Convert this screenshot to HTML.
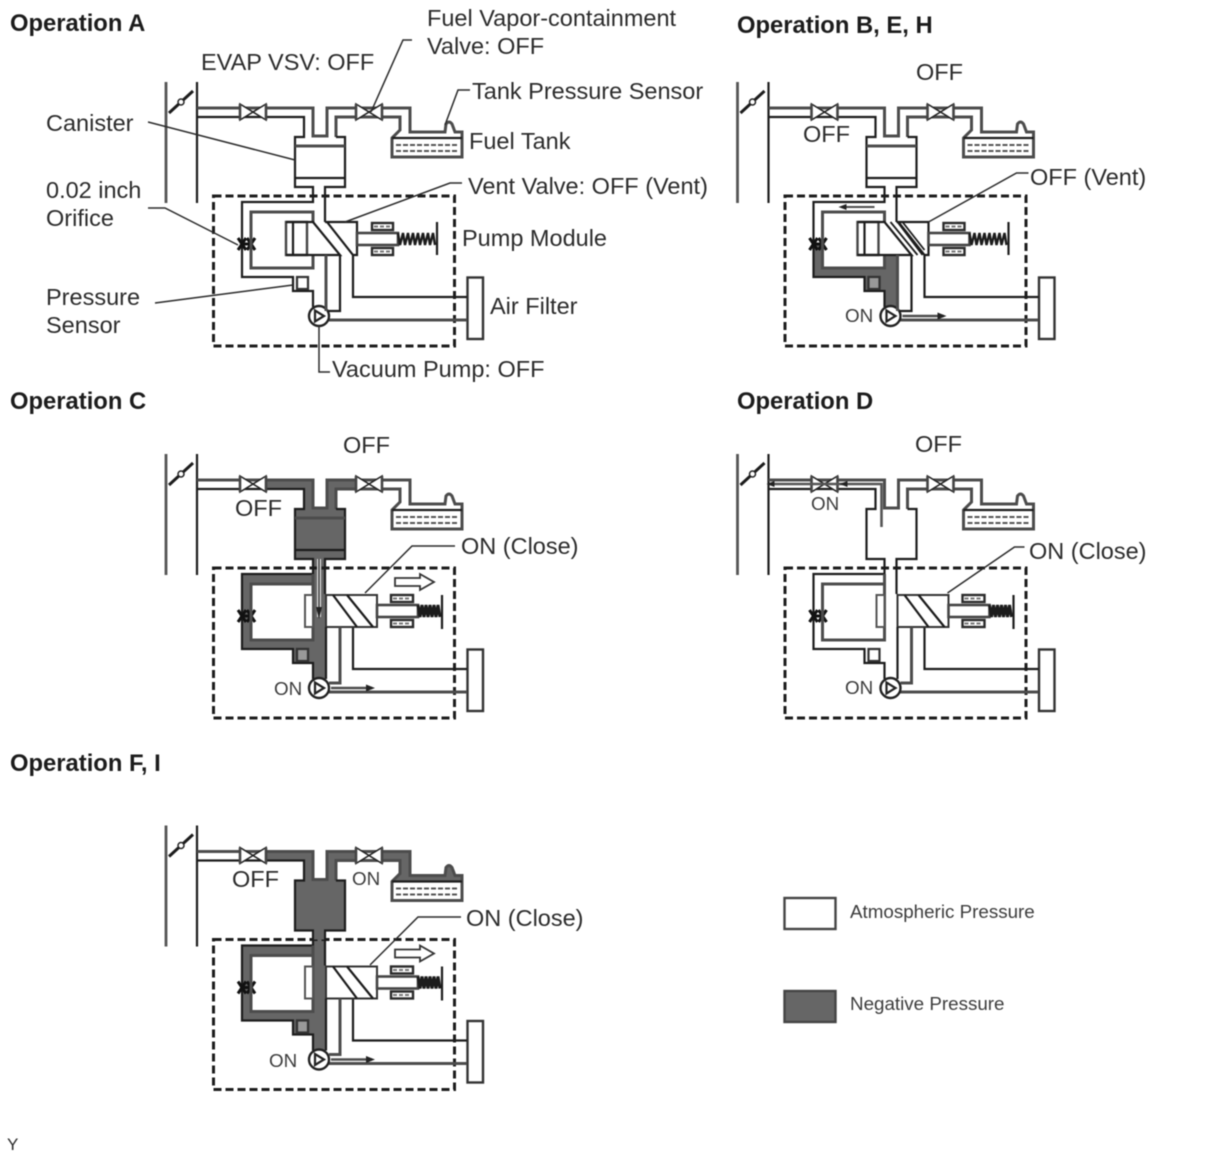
<!DOCTYPE html>
<html><head><meta charset="utf-8"><style>
html,body{margin:0;padding:0;background:#fff}
svg{display:block;filter:blur(.45px)}
text{font-family:"Liberation Sans",sans-serif;font-size:23.5px;fill:#2b2b2b}
.b{font-weight:bold;font-size:23.8px;fill:#1c1c1c}
.s{font-size:18.8px;fill:#3c3c3c}
.l{fill:none;stroke:#1c1c1c;stroke-width:2.2}
.g{fill:none;stroke:#4c4c4c;stroke-width:3}
.t{fill:none;stroke:#2a2a2a;stroke-width:1.5}
.d{fill:#666;stroke:none}
.v{fill:#fff;stroke:#222;stroke-width:1.6}
.c{fill:#fff;stroke:#2a2a2a;stroke-width:2.4}
.w{fill:none;stroke:#777;stroke-width:2;stroke-dasharray:4 2}
</style></head><body>
<svg width="1210" height="1156" viewBox="0 0 1210 1156" xmlns="http://www.w3.org/2000/svg">
<defs>
<g id="common">
<path d="M166 82V203" fill="none" stroke="#555" stroke-width="2.800"/>
<path class="l" d="M197 82V203"/>
<path class="l" d="M169 113L193 91" style="stroke-width:3"/>
<circle cx="181" cy="102" r="3" fill="#fff" stroke="#222" stroke-width="1.500"/>
<path class="g" d="M197 108H313V136H327V108H410V132H445L446 124Q449 120 452 124L455 132H462V157H392V138L400 130V117H336V137"/>
<path class="l" d="M197 117H304V137H295V187H313V202H242V277H293V291H313V307"/>
<path class="l" d="M336 137H345V187H325V222"/>
<path class="l" d="M392 138H462"/>
<path d="M396 145H458M396 151H458" fill="none" stroke="#555" stroke-width="2" stroke-dasharray="5 2"/>
<polygon class="v" points="240,104 253,112 240,120"/>
<polygon class="v" points="266,104 253,112 266,120"/>
<polygon class="v" points="356,104 369,112 356,120"/>
<polygon class="v" points="382,104 369,112 382,120"/>
<path d="M240 104V120M266 104V120M356 104V120M382 104V120" fill="none" stroke="#444" stroke-width="2.600"/>
<rect x="213.500" y="196" width="241" height="150" fill="none" stroke="#1c1c1c" stroke-width="3" stroke-dasharray="8 4"/>
<rect x="467.500" y="277.500" width="15.500" height="61.500" fill="#fff" stroke="#333" stroke-width="2.400"/>
<path class="g" d="M329 320H467"/>
<path class="l" d="M353 255V297H467"/>
<path d="M238 238L246 250M246 238L238 250M247 238L255 250M255 238L247 250M240 244H253" fill="none" stroke="#111" stroke-width="3"/>
<rect x="297" y="277" width="11" height="12" fill="#fff" stroke="#333" stroke-width="2.200"/>
<circle cx="319" cy="316" r="10" fill="#fff" stroke="#222" stroke-width="2.400"/>
<polygon points="315,310.500 315,321.500 324,316" fill="#fff" stroke="#222" stroke-width="2.200"/>
</g>
<g id="canlines">
<path class="g" d="M295 146H345"/>
<path class="l" d="M295 178H345"/>
</g>
<g id="open">
<path class="g" d="M313 222V212H251V268H313V255"/>
<rect x="286" y="222" width="21" height="33" fill="#fff" stroke="#444" stroke-width="2.400"/>
<path class="l" d="M293 222V255"/>
<path class="l" d="M286 222H313L340 255H286M340 255V311H328"/>
<path class="g" d="M326 255V311"/>
<path class="l" d="M325 222H357V255H353L327 222"/>
<rect x="357" y="233" width="41" height="12" fill="#fff" stroke="#444" stroke-width="2.600"/>
<rect class="c" x="372" y="223" width="21" height="7"/>
<rect class="c" x="372" y="248" width="21" height="7"/>
<path class="w" d="M374 226.500H391M374 251.500H391"/>
<path class="l" d="M398 233L400 245L403 233L405 245L408 233L410 245L413 233L415 245L418 233L420 245L423 233L425 245L428 233L430 245L433 233L435 245" style="stroke-width:2.400"/>
<path class="l" d="M437 222V255"/>
</g>
<g id="closed">
<path class="g" d="M313 202V268H251V212H313"/>
<rect x="305" y="223" width="8" height="32" fill="#fff" stroke="#555" stroke-width="2"/>
<rect x="326" y="223" width="51" height="32" fill="#fff" stroke="#333" stroke-width="2"/>
<path class="l" d="M333 223L357 255M347 223L373 255"/>
<path class="g" d="M340 255V311H329"/>
<path class="l" d="M326 255V307"/>
<rect x="377" y="233" width="41" height="12" fill="#fff" stroke="#444" stroke-width="2.600"/>
<rect class="c" x="391" y="223" width="22" height="7"/>
<rect class="c" x="391" y="248" width="22" height="7"/>
<path class="w" d="M393 226.500H411M393 251.500H411"/>
<path class="l" d="M418 233L420 245L422 233L424 245L426 233L428 245L430 233L432 245L434 233L436 245L438 233L440 245" style="stroke-width:3"/>
<path class="l" d="M442 223V257"/>
</g>
<g id="hollow">
<path d="M395 206H420V202L434 210L420 218V214H395Z" fill="#fff" stroke="#333" stroke-width="1.800"/>
</g>
<g id="outarrow">
<path class="g" d="M331 316H372" style="stroke-width:2.400"/>
<polygon points="366,312.500 375,316 366,319.500" fill="#222"/>
</g>
<g id="negloop">
<path class="d" d="M242 202H313V212H251V268H313V291H293V277H242Z"/>
<path class="d" d="M313 187H325V307H313Z"/>
</g>
</defs>

<!-- Panel A -->
<use href="#common"/><use href="#canlines"/><use href="#open"/>
<path class="t" d="M412 40H403L371 112M470 90H458L445 125M148 122L295 160M462 183H450L345 222M148 208H165L238 245M155 303L293 285M330 372H319V326"/>

<!-- Panel B -->
<g transform="translate(571.500,0)">
<path class="d" d="M242 244H251V268H313V255H325V307H313V291H293V277H242Z"/>
<use href="#common"/><use href="#canlines"/><use href="#open"/>
<rect x="297" y="277" width="11" height="12" fill="#999" stroke="#333" stroke-width="2.200"/>
<path class="l" d="M319 222L346 255M326 222L351 255M331 222L353 250" style="stroke-width:1.800"/>
<path class="g" d="M270 207H303" style="stroke-width:2"/>
<polygon points="275,204 267,207 275,210" fill="#222"/>
<use href="#outarrow"/>
<path class="t" d="M457 173H445L357 222"/>
</g>

<!-- Panel C -->
<g transform="translate(0,372)">
<path class="d" d="M267 108H313V136H327V108H355V117H336V137H345V187H295V137H304V117H267Z"/>
<use href="#negloop"/>
<use href="#common"/><use href="#canlines"/><use href="#closed"/><use href="#hollow"/>
<rect x="297" y="277" width="11" height="12" fill="#999" stroke="#333" stroke-width="2.200"/>
<use href="#outarrow"/>
<path d="M319 187V245" stroke="#ddd" stroke-width="4" fill="none"/>
<path d="M319 187V245" stroke="#333" stroke-width="1.400" fill="none"/>
<polygon points="316,235 319,247 322,235" fill="#222"/>
<path class="t" d="M455 174H412L365 221"/>
</g>

<!-- Panel D -->
<g transform="translate(571.500,372)">
<use href="#common"/><use href="#closed"/>
<path d="M310 155V112H200" fill="none" stroke="#555" stroke-width="2.600"/>
<polygon points="276,109 268,112 276,115" fill="#222"/>
<polygon points="203,109 195,112 203,115" fill="#222"/>
<path class="t" d="M453 175H443L376 221"/>
</g>

<!-- Panel F -->
<g transform="translate(0,743.500)">
<path class="d" d="M267 108H313V136H327V108H356V117H336V137H345V187H325V190H313V187H295V137H304V117H267Z"/>
<path class="d" d="M382 108H410V132H445L446 124Q449 120 452 124L455 132H462V139H392V138L400 130V117H382Z"/>
<use href="#negloop"/>
<use href="#common"/><use href="#closed"/><use href="#hollow"/>
<rect x="297" y="277" width="11" height="12" fill="#999" stroke="#333" stroke-width="2.200"/>
<use href="#outarrow"/>
<path class="d" d="M314 180H324V196H314Z"/>
<path class="t" d="M461 173.500H418L370 221.500"/>
</g>

<!-- Legend -->
<rect x="784.500" y="898" width="51" height="31" fill="#fff" stroke="#444" stroke-width="2.400"/>
<rect x="784.500" y="991" width="51" height="31" fill="#666" stroke="#444" stroke-width="2.400"/>

<!-- Text -->
<text class="b" x="10" y="31">Operation A</text>
<text x="427" y="26">Fuel Vapor-containment</text>
<text x="427" y="54">Valve: OFF</text>
<text x="201" y="70">EVAP VSV: OFF</text>
<text x="472" y="99">Tank Pressure Sensor</text>
<text x="469" y="149">Fuel Tank</text>
<text x="46" y="131">Canister</text>
<text x="46" y="198">0.02 inch</text>
<text x="46" y="226">Orifice</text>
<text x="468" y="194">Vent Valve: OFF (Vent)</text>
<text x="462" y="246">Pump Module</text>
<text x="46" y="305">Pressure</text>
<text x="46" y="333">Sensor</text>
<text x="490" y="314">Air Filter</text>
<text x="332" y="377">Vacuum Pump: OFF</text>
<text class="b" x="737" y="33">Operation B, E, H</text>
<text x="916" y="80">OFF</text>
<text x="803" y="142">OFF</text>
<text x="1030" y="185">OFF (Vent)</text>
<text class="s" x="845" y="322">ON</text>
<text class="b" x="10" y="409">Operation C</text>
<text x="343" y="453">OFF</text>
<text x="235" y="516">OFF</text>
<text x="461" y="554">ON (Close)</text>
<text class="s" x="274" y="695">ON</text>
<text class="b" x="737" y="409">Operation D</text>
<text x="915" y="452">OFF</text>
<text class="s" x="811" y="510">ON</text>
<text x="1029" y="559">ON (Close)</text>
<text class="s" x="845" y="694">ON</text>
<text class="b" x="10" y="771">Operation F, I</text>
<text x="232" y="887">OFF</text>
<text class="s" x="352" y="885">ON</text>
<text x="466" y="926">ON (Close)</text>
<text class="s" x="269" y="1067">ON</text>
<text class="s" x="850" y="918">Atmospheric Pressure</text>
<text class="s" x="850" y="1010">Negative Pressure</text>
<text x="7" y="1150" style="font-size:17px">Y</text>
</svg>
</body></html>
